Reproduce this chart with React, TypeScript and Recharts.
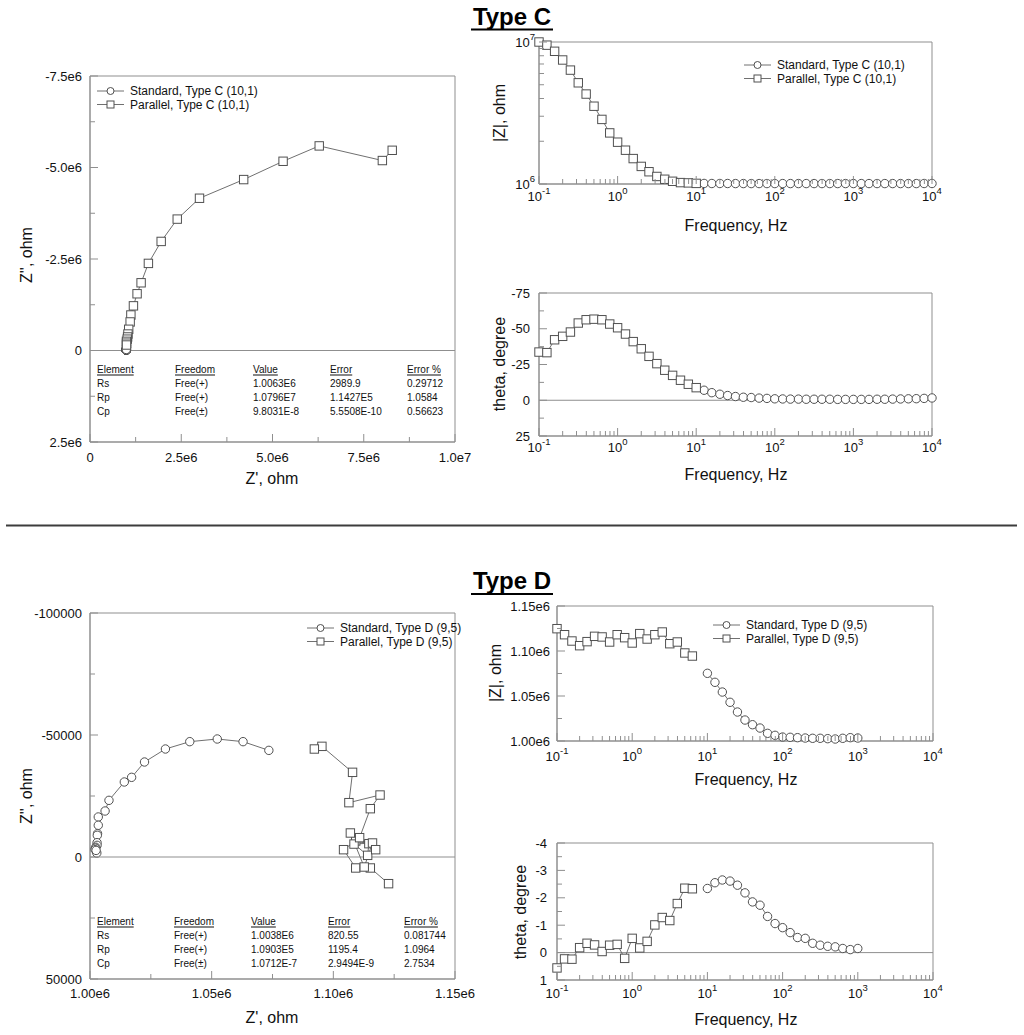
import React from 'react';
import { ScatterChart, Scatter, XAxis, YAxis, ReferenceLine, ReferenceArea } from 'recharts';

const FONT = '"Liberation Sans", Arial, Helvetica, sans-serif';
const AXIS_COLOR = '#8f8f8f';
const MARK_COLOR = '#505050';
const LINE_COLOR = '#707070';
const TEXT_COLOR = '#111111';

// ---------------- Frequencies (Hz) ----------------
const freqCParallel = [0.1, 0.126, 0.158, 0.2, 0.251, 0.316, 0.398, 0.501, 0.631, 0.794, 1, 1.26, 1.58, 2, 2.51, 3.16, 3.98, 5.01, 6.31, 7.94, 10];
const freqCStandard = [12.6, 15.8, 20, 25.1, 31.6, 39.8, 50.1, 63.1, 79.4, 100, 126, 158, 200, 251, 316, 398, 501, 631, 794, 1000, 1260, 1580, 2000, 2510, 3160, 3980, 5010, 6310, 7940, 10000];
const freqDParallel = [0.1, 0.126, 0.158, 0.2, 0.251, 0.316, 0.398, 0.501, 0.631, 0.794, 1, 1.26, 1.58, 2, 2.51, 3.16, 3.98, 5.01, 6.31];
const freqDStandard = [10, 12.6, 15.8, 20, 25.1, 31.6, 39.8, 50.1, 63.1, 79.4, 100, 126, 158, 200, 251, 316, 398, 501, 631, 794, 1000];

// ---------------- Type C ----------------
const zmodCParallel = [1.0e7, 9.5e6, 8.6e6, 7.47e6, 6.34e6, 5.16e6, 4.3e6, 3.53e6, 2.85e6, 2.29e6, 1.97e6, 1.73e6, 1.51e6, 1.33e6, 1.22e6, 1.13e6, 1.08e6, 1.045e6, 1.023e6, 1.018e6, 1.01e6];
const zmodCStandard = [1.009e6, 1.008e6, 1.008e6, 1.008e6, 1.007e6, 1.007e6, 1.007e6, 1.007e6, 1.007e6, 1.007e6, 1.007e6, 1.007e6, 1.007e6, 1.007e6, 1.007e6, 1.007e6, 1.007e6, 1.007e6, 1.007e6, 1.007e6, 1.007e6, 1.007e6, 1.007e6, 1.007e6, 1.007e6, 1.007e6, 1.007e6, 1.007e6, 1.008e6, 1.008e6];
const thetaCParallel = [-33.7, -33.3, -42.3, -44.7, -47.7, -54, -56.3, -56.7, -56.3, -53.3, -50.7, -46.3, -41, -36, -30.7, -25.6, -21, -17.4, -14, -11.2, -8.8];
const thetaCStandard = [-7.0, -5.3, -4.2, -3.3, -2.6, -2.1, -1.9, -1.5, -1.3, -1.0, -0.9, -0.8, -0.8, -0.7, -0.7, -0.7, -0.7, -0.6, -0.6, -0.6, -0.6, -0.6, -0.7, -0.7, -0.8, -0.9, -1.0, -1.1, -1.3, -1.6];
const zReCParallel = [8.28e6, 8.01e6, 6.28e6, 5.29e6, 4.21e6, 3.0e6, 2.39e6, 1.95e6, 1.6e6, 1.4e6, 1.29e6, 1.19e6, 1.12e6, 1.1e6, 1.06e6, 1.04e6, 1.03e6, 1.02e6, 1.0e6, 1.0e6, 1.0e6];
const zImCParallel = [-5.47e6, -5.19e6, -5.59e6, -5.17e6, -4.67e6, -4.16e6, -3.59e6, -2.98e6, -2.38e6, -1.85e6, -1.55e6, -1.22e6, -0.97e6, -0.78e6, -0.58e6, -0.45e6, -0.37e6, -0.31e6, -0.25e6, -0.2e6, -0.15e6];
const zReCStandard = [1.0e6, 1.0e6, 1.0e6, 0.995e6, 0.995e6, 0.995e6, 0.995e6, 0.995e6, 0.995e6, 0.995e6, 0.995e6, 0.995e6, 0.995e6, 0.995e6, 0.995e6, 0.995e6, 0.995e6, 0.995e6, 0.995e6, 0.995e6, 0.995e6, 0.995e6, 0.995e6, 0.995e6, 0.995e6, 0.995e6, 0.995e6, 0.995e6, 0.995e6, 0.995e6];
const zImCStandard = [-0.123e6, -0.093e6, -0.074e6, -0.058e6, -0.046e6, -0.037e6, -0.033e6, -0.026e6, -0.023e6, -0.018e6, -0.016e6, -0.014e6, -0.014e6, -0.012e6, -0.012e6, -0.012e6, -0.012e6, -0.011e6, -0.011e6, -0.011e6, -0.011e6, -0.011e6, -0.012e6, -0.012e6, -0.014e6, -0.016e6, -0.018e6, -0.019e6, -0.023e6, -0.028e6];

// ---------------- Type D ----------------
const zmodDParallel = [1.1248e6, 1.1181e6, 1.1111e6, 1.1059e6, 1.1104e6, 1.1163e6, 1.1156e6, 1.11e6, 1.1181e6, 1.1148e6, 1.1089e6, 1.1193e6, 1.1133e6, 1.1181e6, 1.1211e6, 1.1081e6, 1.11e6, 1.0978e6, 1.0944e6];
const zmodDStandard = [1.0752e6, 1.0652e6, 1.0544e6, 1.043e6, 1.0322e6, 1.0233e6, 1.0181e6, 1.0144e6, 1.0085e6, 1.0063e6, 1.0044e6, 1.0041e6, 1.0037e6, 1.0033e6, 1.003e6, 1.003e6, 1.0026e6, 1.0022e6, 1.003e6, 1.0037e6, 1.0033e6];
const thetaDParallel = [0.56, 0.23, 0.24, -0.18, -0.34, -0.28, -0.04, -0.27, -0.3, 0.21, -0.52, -0.17, -0.41, -1.01, -1.28, -1.17, -1.79, -2.35, -2.33];
const thetaDStandard = [-2.34, -2.55, -2.65, -2.61, -2.46, -2.18, -1.85, -1.73, -1.32, -1.06, -0.91, -0.73, -0.55, -0.52, -0.34, -0.27, -0.23, -0.21, -0.15, -0.11, -0.15];
const zReDParallel = [1.1227e6, 1.1152e6, 1.1092e6, 1.1042e6, 1.1092e6, 1.1146e6, 1.1141e6, 1.1085e6, 1.1161e6, 1.1127e6, 1.107e6, 1.1174e6, 1.1108e6, 1.1152e6, 1.1192e6, 1.1064e6, 1.1079e6, 1.0953e6, 1.0922e6];
const zImDParallel = [10930, 4500, 4500, -3000, -6560, -5460, -680, -5300, -5740, 4100, -9840, -3000, -7920, -19800, -25400, -22270, -34700, -45350, -44260];
const zReDStandard = [1.0735e6, 1.0629e6, 1.0523e6, 1.041e6, 1.031e6, 1.0224e6, 1.0171e6, 1.0141e6, 1.0078e6, 1.0062e6, 1.0034e6, 1.0034e6, 1.0031e6, 1.003e6, 1.0029e6, 1.0029e6, 1.0024e6, 1.0022e6, 1.0021e6, 1.0028e6, 1.0025e6];
const zImDStandard = [-43700, -47270, -48360, -47270, -44260, -38930, -32650, -30740, -23220, -18850, -16400, -13000, -9560, -8900, -5870, -4780, -4000, -3600, -3000, -1640, -2700];

// ---------------- Axis ticks ----------------
const nyqCXMajor = [0, 2.5e6, 5e6, 7.5e6, 1e7];
const nyqCXLabels = ['0', '2.5e6', '5.0e6', '7.5e6', '1.0e7'];
const nyqCXMinor = [1.25e6, 3.75e6, 6.25e6, 8.75e6];
const nyqCYMajor = [-7.5e6, -5e6, -2.5e6, 0, 2.5e6];
const nyqCYLabels = ['-7.5e6', '-5.0e6', '-2.5e6', '0', '2.5e6'];
const nyqCYMinor = [-6.25e6, -3.75e6, -1.25e6, 1.25e6];

const nyqDXMajor = [1.0e6, 1.05e6, 1.1e6, 1.15e6];
const nyqDXLabels = ['1.00e6', '1.05e6', '1.10e6', '1.15e6'];
const nyqDXMinor = [1.025e6, 1.075e6, 1.125e6];
const nyqDYMajor = [-100000, -50000, 0, 50000];
const nyqDYLabels = ['-100000', '-50000', '0', '50000'];
const nyqDYMinor = [-75000, -25000, 25000];

const freqMajor = [0.1, 1, 10, 100, 1000, 10000];
const freqMinor: number[] = [];
for (let d = -1; d < 4; d++) for (let k = 2; k <= 9; k++) freqMinor.push(Number((k * Math.pow(10, d)).toPrecision(3)));

const zmodCMajor = [1e6, 1e7];
const zmodCMinor = [2e6, 3e6, 4e6, 5e6, 6e6, 7e6, 8e6, 9e6];
const thetaCMajor = [-75, -50, -25, 0, 25];
const thetaCLabels = ['-75', '-50', '-25', '0', '25'];
const thetaCMinor = [-62.5, -37.5, -12.5, 12.5];
const zmodDMajor = [1.0e6, 1.05e6, 1.1e6, 1.15e6];
const zmodDLabels = ['1.00e6', '1.05e6', '1.10e6', '1.15e6'];
const zmodDMinor = [1.025e6, 1.075e6, 1.125e6];
const thetaDMajor = [-4, -3, -2, -1, 0, 1];
const thetaDLabels = ['-4', '-3', '-2', '-1', '0', '1'];
const thetaDMinor = [-3.5, -2.5, -1.5, -0.5, 0.5];

// ---------------- Legends & tables ----------------
const legendC = ['Standard, Type C (10,1)', 'Parallel, Type C (10,1)'];
const legendD = ['Standard, Type D (9,5)', 'Parallel, Type D (9,5)'];
const tableHeaders = ['Element', 'Freedom', 'Value', 'Error', 'Error %'];
const tableCRows = [
  ['Rs', 'Free(+)', '1.0063E6', '2989.9', '0.29712'],
  ['Rp', 'Free(+)', '1.0796E7', '1.1427E5', '1.0584'],
  ['Cp', 'Free(±)', '9.8031E-8', '5.5508E-10', '0.56623'],
];
const tableDRows = [
  ['Rs', 'Free(+)', '1.0038E6', '820.55', '0.081744'],
  ['Rp', 'Free(+)', '1.0903E5', '1195.4', '1.0964'],
  ['Cp', 'Free(±)', '1.0712E-7', '2.9494E-9', '2.7534'],
];

const zip = (xs: number[], ys: number[]) => xs.map((x, i) => ({ x, y: ys[i] }));

type Series = { data: { x: number; y: number }[]; shape: 'circle' | 'square' };
type Cfg = {
  px: number; py: number; pw: number; ph: number;
  xDomain: [number, number]; yDomain: [number, number];
  xLog?: boolean; yLog?: boolean; yReversed?: boolean;
  xMajor: number[]; xLabels?: string[]; xMinor: number[]; xLabelOff: number;
  yMajor: number[]; yLabels?: string[]; yMinor: number[]; yLabelGap: number;
  zeroLine?: boolean;
  series: Series[];
};

const near = (a: number, b: number) => Math.abs(a - b) < 1e-9 + 1e-6 * Math.abs(b);
const idxOf = (arr: number[], v: number) => arr.findIndex((t) => near(v, t));

function TickLabel(props: { x: number; y: number; v: number; log?: boolean; majors: number[]; labels?: string[]; anchor: 'middle' | 'end' }) {
  const { x, y, v, log, majors, labels, anchor } = props;
  if (log) {
    const e = Math.round(Math.log10(v));
    return (
      <text x={x} y={y} textAnchor={anchor} dominantBaseline="central" fontSize={13} fill={TEXT_COLOR} fontFamily={FONT}>
        <tspan>10</tspan>
        <tspan dy={-6} fontSize={9.5}>{String(e)}</tspan>
      </text>
    );
  }
  const i = idxOf(majors, v);
  return (
    <text x={x} y={y} textAnchor={anchor} dominantBaseline="central" fontSize={13} fill={TEXT_COLOR} fontFamily={FONT}>
      {labels ? labels[i] : String(v)}
    </text>
  );
}

const CircleShape = (p: any) => (
  <circle cx={p.cx} cy={p.cy} r={4.2} fill="#ffffff" stroke={MARK_COLOR} strokeWidth={1} />
);
const SquareShape = (p: any) => (
  <rect x={p.cx - 4.2} y={p.cy - 4.2} width={8.4} height={8.4} fill="#ffffff" stroke={MARK_COLOR} strokeWidth={1} />
);

const YW = 80, XH = 40, MT = 12, MR = 32;

function Panel({ c }: { c: Cfg }) {
  const xTick = (props: any) => {
    const { x, y, payload } = props;
    const v = payload.value;
    const major = idxOf(c.xMajor, v) >= 0;
    return (
      <g>
        <line x1={x} x2={x} y1={y} y2={y - (major ? 8 : 5)} stroke={AXIS_COLOR} strokeWidth={1} />
        {major && <TickLabel x={x} y={y + c.xLabelOff} v={v} log={c.xLog} majors={c.xMajor} labels={c.xLabels} anchor="middle" />}
      </g>
    );
  };
  const yTick = (props: any) => {
    const { x, y, payload } = props;
    const v = payload.value;
    const major = idxOf(c.yMajor, v) >= 0;
    return (
      <g>
        <line x1={x} x2={x + (major ? 8 : 5)} y1={y} y2={y} stroke={AXIS_COLOR} strokeWidth={1} />
        {major && <TickLabel x={x - c.yLabelGap} y={y} v={v} log={c.yLog} majors={c.yMajor} labels={c.yLabels} anchor="end" />}
      </g>
    );
  };
  const xTicks = [...c.xMajor, ...c.xMinor].sort((a, b) => a - b);
  const yTicks = [...c.yMajor, ...c.yMinor].sort((a, b) => a - b);
  return (
    <div style={{ position: 'absolute', left: c.px - YW, top: c.py - MT }}>
      <ScatterChart width={YW + c.pw + MR} height={MT + c.ph + XH} margin={{ top: MT, right: MR, bottom: 0, left: 0 }}>
        <XAxis
          type="number"
          dataKey="x"
          scale={c.xLog ? 'log' : 'linear'}
          domain={c.xDomain}
          ticks={xTicks}
          interval={0}
          tickLine={false}
          tickSize={0}
          tickMargin={0}
          height={XH}
          axisLine={{ stroke: AXIS_COLOR }}
          tick={xTick}
        />
        <YAxis
          type="number"
          dataKey="y"
          scale={c.yLog ? 'log' : 'linear'}
          domain={c.yDomain}
          reversed={c.yReversed}
          ticks={yTicks}
          interval={0}
          tickLine={false}
          tickSize={0}
          tickMargin={0}
          width={YW}
          axisLine={{ stroke: AXIS_COLOR }}
          tick={yTick}
        />
        <ReferenceArea x1={c.xDomain[0]} x2={c.xDomain[1]} y1={c.yDomain[0]} y2={c.yDomain[1]} fill="none" fillOpacity={0} stroke={AXIS_COLOR} strokeWidth={1} ifOverflow="visible" />
        {c.zeroLine && <ReferenceLine y={0} stroke={AXIS_COLOR} strokeWidth={1} />}
        {c.series.map((s, i) => (
          <Scatter
            key={i}
            data={s.data}
            line={{ stroke: LINE_COLOR, strokeWidth: 1 }}
            lineType="joint"
            shape={s.shape === 'circle' ? CircleShape : SquareShape}
            isAnimationActive={false}
          />
        ))}
      </ScatterChart>
    </div>
  );
}

const panels: Cfg[] = [
  {
    px: 90, py: 76, pw: 365, ph: 366,
    xDomain: [0, 1e7], yDomain: [-7.5e6, 2.5e6], yReversed: true,
    xMajor: nyqCXMajor, xLabels: nyqCXLabels, xMinor: nyqCXMinor, xLabelOff: 15,
    yMajor: nyqCYMajor, yLabels: nyqCYLabels, yMinor: nyqCYMinor, yLabelGap: 8,
    zeroLine: true,
    series: [
      { data: zip(zReCStandard, zImCStandard), shape: 'circle' },
      { data: zip(zReCParallel, zImCParallel), shape: 'square' },
    ],
  },
  {
    px: 539, py: 42, pw: 393, ph: 142,
    xDomain: [0.1, 10000], yDomain: [1e6, 1e7], xLog: true, yLog: true,
    xMajor: freqMajor, xMinor: freqMinor, xLabelOff: 12,
    yMajor: zmodCMajor, yMinor: zmodCMinor, yLabelGap: 4,
    series: [
      { data: zip(freqCStandard, zmodCStandard), shape: 'circle' },
      { data: zip(freqCParallel, zmodCParallel), shape: 'square' },
    ],
  },
  {
    px: 539, py: 293, pw: 393, ph: 143,
    xDomain: [0.1, 10000], yDomain: [-75, 25], xLog: true, yReversed: true,
    xMajor: freqMajor, xMinor: freqMinor, xLabelOff: 11,
    yMajor: thetaCMajor, yLabels: thetaCLabels, yMinor: thetaCMinor, yLabelGap: 9,
    zeroLine: true,
    series: [
      { data: zip(freqCStandard, thetaCStandard), shape: 'circle' },
      { data: zip(freqCParallel, thetaCParallel), shape: 'square' },
    ],
  },
  {
    px: 90, py: 613, pw: 365, ph: 366,
    xDomain: [1.0e6, 1.15e6], yDomain: [-100000, 50000], yReversed: true,
    xMajor: nyqDXMajor, xLabels: nyqDXLabels, xMinor: nyqDXMinor, xLabelOff: 14,
    yMajor: nyqDYMajor, yLabels: nyqDYLabels, yMinor: nyqDYMinor, yLabelGap: 8,
    zeroLine: true,
    series: [
      { data: zip(zReDStandard, zImDStandard), shape: 'circle' },
      { data: zip(zReDParallel, zImDParallel), shape: 'square' },
    ],
  },
  {
    px: 557, py: 606, pw: 376, ph: 135,
    xDomain: [0.1, 10000], yDomain: [1.0e6, 1.15e6], xLog: true,
    xMajor: freqMajor, xMinor: freqMinor, xLabelOff: 15,
    yMajor: zmodDMajor, yLabels: zmodDLabels, yMinor: zmodDMinor, yLabelGap: 7,
    series: [
      { data: zip(freqDStandard, zmodDStandard), shape: 'circle' },
      { data: zip(freqDParallel, zmodDParallel), shape: 'square' },
    ],
  },
  {
    px: 557, py: 843, pw: 376, ph: 137,
    xDomain: [0.1, 10000], yDomain: [-4, 1], xLog: true, yReversed: true,
    xMajor: freqMajor, xMinor: freqMinor, xLabelOff: 13,
    yMajor: thetaDMajor, yLabels: thetaDLabels, yMinor: thetaDMinor, yLabelGap: 10,
    zeroLine: true,
    series: [
      { data: zip(freqDStandard, thetaDStandard), shape: 'circle' },
      { data: zip(freqDParallel, thetaDParallel), shape: 'square' },
    ],
  },
];

function LegendBox({ x, y, labels }: { x: number; y: number; labels: string[] }) {
  return (
    <g>
      {labels.map((lab, i) => {
        const cy = y + i * 13.5;
        const mx = x + 13.5;
        return (
          <g key={i}>
            <line x1={x} x2={x + 27} y1={cy} y2={cy} stroke={LINE_COLOR} strokeWidth={1} />
            {i === 0 ? (
              <circle cx={mx} cy={cy} r={3.5} fill="#fff" stroke={MARK_COLOR} />
            ) : (
              <rect x={mx - 3.5} y={cy - 3.5} width={7} height={7} fill="#fff" stroke={MARK_COLOR} />
            )}
            <text x={x + 33} y={cy} dominantBaseline="central" fontSize={12} fill={TEXT_COLOR}>{lab}</text>
          </g>
        );
      })}
    </g>
  );
}

function FitTable({ cols, rows, headers, data }: { cols: number[]; rows: number[]; headers: string[]; data: string[][] }) {
  return (
    <g fontSize={10} fill={TEXT_COLOR}>
      {headers.map((h, j) => (
        <text key={'h' + j} x={cols[j]} y={rows[0]} dominantBaseline="central" style={{ textDecoration: 'underline' }}>{h}</text>
      ))}
      {data.map((r, i) =>
        r.map((cell, j) => (
          <text key={i + '-' + j} x={cols[j]} y={rows[i + 1]} dominantBaseline="central">{cell}</text>
        ))
      )}
    </g>
  );
}

function AxisTitle({ x, y, text, rotate }: { x: number; y: number; text: string; rotate?: boolean }) {
  return (
    <text
      x={x}
      y={y}
      textAnchor="middle"
      dominantBaseline="central"
      fontSize={16}
      fill={TEXT_COLOR}
      transform={rotate ? `rotate(-90, ${x}, ${y})` : undefined}
    >
      {text}
    </text>
  );
}

export default function App() {
  return (
    <div style={{ position: 'absolute', left: 0, top: 0, width: 1024, height: 1035, background: '#fff', fontFamily: FONT }}>
      {panels.map((c, i) => (
        <Panel key={i} c={c} />
      ))}
      <svg width={1024} height={1035} style={{ position: 'absolute', left: 0, top: 0, pointerEvents: 'none' }} fontFamily={FONT}>
        <text x={512} y={24.5} textAnchor="middle" fontSize={24} fontWeight="bold" fill="#000">Type C</text>
        <line x1={471} x2={553} y1={29.5} y2={29.5} stroke="#000" strokeWidth={2} />
        <line x1={6} x2={1017} y1={525.5} y2={525.5} stroke="#3c3c3c" strokeWidth={2} />
        <text x={512} y={589} textAnchor="middle" fontSize={24} fontWeight="bold" fill="#000">Type D</text>
        <line x1={471} x2={553} y1={594} y2={594} stroke="#000" strokeWidth={2} />

        <AxisTitle x={272} y={478} text="Z', ohm" />
        <AxisTitle x={26} y={255} text="Z'', ohm" rotate />
        <AxisTitle x={736} y={225} text="Frequency, Hz" />
        <AxisTitle x={499} y={113} text="|Z|, ohm" rotate />
        <AxisTitle x={736} y={474} text="Frequency, Hz" />
        <AxisTitle x={499} y={364} text="theta, degree" rotate />

        <AxisTitle x={272} y={1017} text="Z', ohm" />
        <AxisTitle x={26} y={796} text="Z'', ohm" rotate />
        <AxisTitle x={746} y={779} text="Frequency, Hz" />
        <AxisTitle x={495} y={673} text="|Z|, ohm" rotate />
        <AxisTitle x={746} y={1019} text="Frequency, Hz" />
        <AxisTitle x={520} y={912} text="theta, degree" rotate />

        <LegendBox x={97} y={91} labels={legendC} />
        <LegendBox x={744} y={65} labels={legendC} />
        <LegendBox x={307} y={628} labels={legendD} />
        <LegendBox x={713} y={625} labels={legendD} />

        <FitTable cols={[97, 175, 253, 330, 407]} rows={[369, 383, 397, 411]} headers={tableHeaders} data={tableCRows} />
        <FitTable cols={[97, 174, 251, 328, 404]} rows={[921, 935, 949, 963]} headers={tableHeaders} data={tableDRows} />
      </svg>
    </div>
  );
}
